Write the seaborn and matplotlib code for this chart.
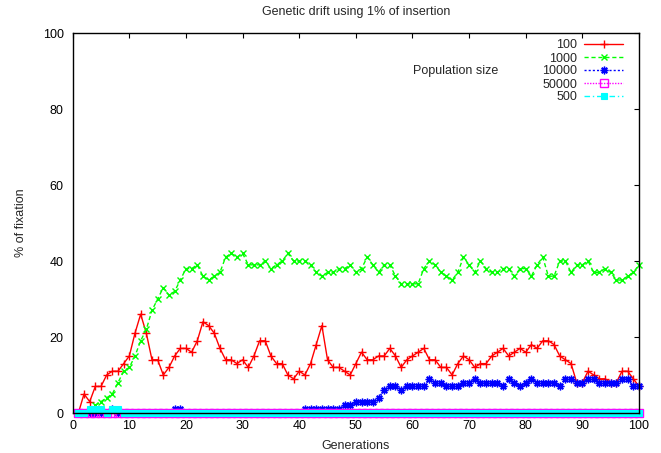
import matplotlib
matplotlib.use("Agg")
import matplotlib.pyplot as plt
import seaborn as sns
import pandas as pd

generations = list(range(1, 101))

pop_100 = [0, 5, 3, 7, 7, 10, 11, 11, 13, 15,
           21, 26, 21, 14, 14, 10, 12, 15, 17, 17,
           16, 19, 24, 23, 21, 17, 14, 14, 13, 14,
           12, 15, 19, 19, 15, 13, 13, 10, 9, 11,
           10, 13, 18, 23, 14, 12, 12, 11, 10, 13,
           16, 14, 14, 15, 15, 17, 15, 12, 14, 15,
           16, 17, 14, 14, 12, 12, 10, 13, 15, 14,
           12, 13, 13, 15, 16, 17, 15, 16, 17, 16,
           18, 17, 19, 19, 18, 15, 14, 13, 8, 8,
           11, 10, 9, 9, 8, 8, 11, 11, 9, 7]

pop_1000 = [0, 0, 0, 2, 3, 4, 5, 8, 11, 12,
            15, 19, 22, 27, 30, 33, 31, 32, 35, 38,
            38, 39, 36, 35, 36, 37, 41, 42, 41, 42,
            39, 39, 39, 40, 38, 39, 40, 42, 40, 40,
            40, 39, 37, 36, 37, 37, 38, 38, 39, 37,
            38, 41, 39, 37, 39, 39, 36, 34, 34, 34,
            34, 38, 40, 39, 37, 36, 35, 37, 41, 39,
            37, 40, 38, 37, 37, 38, 38, 36, 38, 38,
            36, 39, 41, 36, 36, 40, 40, 37, 39, 39,
            40, 37, 37, 38, 37, 35, 35, 36, 37, 39]

pop_10000 = [0, 0, 0, 0, 0, 0, 1, 0, 0, 0,
             0, 0, 0, 0, 0, 0, 0, 1, 1, 0,
             0, 0, 0, 0, 0, 0, 0, 0, 0, 0,
             0, 0, 0, 0, 0, 0, 0, 0, 0, 0,
             1, 1, 1, 1, 1, 1, 1, 2, 2, 3,
             3, 3, 3, 4, 6, 7, 7, 6, 7, 7,
             7, 7, 9, 8, 8, 7, 7, 7, 8, 8,
             9, 8, 8, 8, 8, 7, 9, 8, 7, 8,
             9, 8, 8, 8, 8, 7, 9, 9, 8, 8,
             9, 9, 8, 8, 8, 8, 9, 9, 7, 7]

pop_50000 = [0, 0, 0, 0, 0, 0, 0, 0, 0, 0,
             0, 0, 0, 0, 0, 0, 0, 0, 0, 0,
             0, 0, 0, 0, 0, 0, 0, 0, 0, 0,
             0, 0, 0, 0, 0, 0, 0, 0, 0, 0,
             0, 0, 0, 0, 0, 0, 0, 0, 0, 0,
             0, 0, 0, 0, 0, 0, 0, 0, 0, 0,
             0, 0, 0, 0, 0, 0, 0, 0, 0, 0,
             0, 0, 0, 0, 0, 0, 0, 0, 0, 0,
             0, 0, 0, 0, 0, 0, 0, 0, 0, 0,
             0, 0, 0, 0, 0, 0, 0, 0, 0, 0]

pop_500 = [0, 0, 1, 1, 1, 0, 1, 1, 0, 0,
           0, 0, 0, 0, 0, 0, 0, 0, 0, 0,
           0, 0, 0, 0, 0, 0, 0, 0, 0, 0,
           0, 0, 0, 0, 0, 0, 0, 0, 0, 0,
           0, 0, 0, 0, 0, 0, 0, 0, 0, 0,
           0, 0, 0, 0, 0, 0, 0, 0, 0, 0,
           0, 0, 0, 0, 0, 0, 0, 0, 0, 0,
           0, 0, 0, 0, 0, 0, 0, 0, 0, 0,
           0, 0, 0, 0, 0, 0, 0, 0, 0, 0,
           0, 0, 0, 0, 0, 0, 0, 0, 0, 0]

series_labels = ["100", "1000", "10000", "50000", "500"]
x_ticks = [0, 10, 20, 30, 40, 50, 60, 70, 80, 90, 100]
y_ticks = [0, 20, 40, 60, 80, 100]

sns.set_theme(style="white")
plt.rcParams["font.family"] = ["Liberation Sans", "DejaVu Sans"]
FS = 9.0

fig = plt.figure(figsize=(6.61, 4.53), dpi=100)
ax = fig.add_axes([72.7 / 661, 1 - 413 / 453, (639 - 72.7) / 661, (413 - 33) / 453])

styles = [
    dict(color="#ff0000", linestyle="-", marker="+", markersize=6,
         markeredgecolor="#ff0000", markerfacecolor="#ff0000", markeredgewidth=1.0),
    dict(color="#00ff00", linestyle=(0, (3, 2)), marker="x", markersize=4.8,
         markeredgecolor="#00ff00", markerfacecolor="#00ff00", markeredgewidth=1.0),
    dict(color="#0000ff", linestyle=(0, (1.5, 1.5)), marker=(8, 2, 0), markersize=5.5,
         markeredgecolor="#0000ff", markerfacecolor="#0000ff", markeredgewidth=1.0),
    dict(color="#ff00ff", linestyle=(0, (1, 1)), marker="s", markersize=5.2,
         markeredgecolor="#ff00ff", markerfacecolor="none", markeredgewidth=1.0),
    dict(color="#00ffff", linestyle=(0, (4, 2, 1, 2)), marker="s", markersize=4.3,
         markeredgecolor="#00ffff", markerfacecolor="#00ffff", markeredgewidth=0.8),
]

all_series = [pop_100, pop_1000, pop_10000, pop_50000, pop_500]
for lab, vals, st in zip(series_labels, all_series, styles):
    df = pd.DataFrame({"Generations": generations, "fix": vals})
    sns.lineplot(data=df, x="Generations", y="fix", ax=ax, label=lab,
                 estimator=None, sort=False, linewidth=1.0, clip_on=False, **st)

ax.set_xlim(0, 100)
ax.set_ylim(0, 100)
ax.set_xticks(x_ticks)
ax.set_yticks(y_ticks)
ax.set_xticklabels([str(t) for t in x_ticks], fontsize=FS)
ax.set_yticklabels([str(t) for t in y_ticks], fontsize=FS)
ax.tick_params(direction="in", top=True, right=True, length=3.6, width=0.8,
               colors="black", pad=5.0)
ax.tick_params(axis="y", pad=6.5)
for sp in ax.spines.values():
    sp.set_color("black")
    sp.set_linewidth(1.0)
    sp.set_zorder(3)

ax.set_xlabel("Generations", fontsize=FS, labelpad=6)
ax.set_ylabel("% of fixation", fontsize=FS, labelpad=11)
fig.text(356 / 661, 1 - 12 / 453, "Genetic drift using 1% of insertion",
         ha="center", va="center", fontsize=FS)

leg = ax.legend(loc="upper right", bbox_to_anchor=((623 - 72.7) / 566.3, (413 - 39.5) / 380),
                markerfirst=False, frameon=False, fontsize=FS, handlelength=3.1,
                handletextpad=0.55, labelspacing=0.08, borderaxespad=0, borderpad=0)
ax.text(60.1, 90.1, "Population size", fontsize=FS, va="center", ha="left")

fig.savefig("out.png", dpi=100)
